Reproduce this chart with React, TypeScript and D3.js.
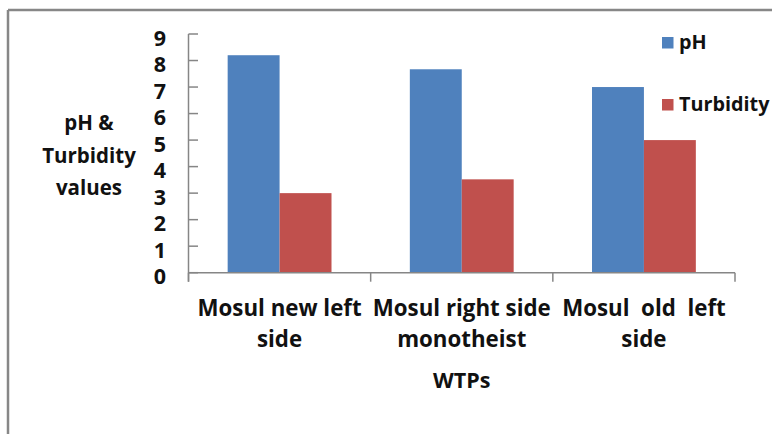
import React from "react"
import * as d3 from "d3"

// WTP categories (each label split into its two printed lines)
const categories = ["Mosul new left side", "Mosul right side monotheist", "Mosul old left side"]
const categoryLines = [
  ["Mosul new left", "side"],
  ["Mosul right side", "monotheist"],
  ["Mosul  old  left", "side"],
]
const seriesNames = ["pH", "Turbidity"]
const phValues = [8.2, 7.67, 7.0]
const turbidityValues = [3.0, 3.52, 5.0]
const yTicks = [0, 1, 2, 3, 4, 5, 6, 7, 8, 9]
const yTitleLines = ["pH &", "Turbidity", "values"]
const xTitle = "WTPs"

const colors = ["#4F81BD", "#C0504D"]
const axisColor = "#868686"
const font = "'Open Sans', Lato, sans-serif"

export default function App() {
  const W = 772
  const H = 434
  const plot = { left: 188.5, right: 735, top: 34, bottom: 272.7 }

  const x = d3.scaleBand<string>()
    .domain(categories)
    .range([plot.left, plot.right])
    .paddingInner(0)
    .paddingOuter(0)

  // Excel-style gap width of ~75% of a bar
  const groupPad = 0.215
  const x1 = d3.scaleBand<string>()
    .domain(seriesNames)
    .range([x.bandwidth() * groupPad, x.bandwidth() * (1 - groupPad)])

  const y = d3.scaleLinear().domain([0, 9]).range([plot.bottom, plot.top])

  const series = [phValues, turbidityValues]
  const boundaries = [...categories.map((c) => x(c) as number), plot.right]

  return (
    <svg
      width={W}
      height={H}
      style={{ position: "absolute", left: 0, top: 0, background: "#fff" }}
      fontFamily={font}
      fontWeight={700}
    >
      <rect x={0} y={0} width={W} height={H} fill="#fff" />
      {/* frame (top and left edges visible) */}
      <line x1={8} x2={W} y1={10} y2={10} stroke="#878787" strokeWidth={2.5} />
      <line x1={8} x2={8} y1={10} y2={H} stroke="#878787" strokeWidth={2.5} />

      {/* bars */}
      {series.map((vals, si) =>
        categories.map((c, ci) => (
          <rect
            key={`${si}-${ci}`}
            x={(x(c) as number) + (x1(seriesNames[si]) as number)}
            y={y(vals[ci])}
            width={x1.bandwidth()}
            height={plot.bottom - y(vals[ci])}
            fill={colors[si]}
          />
        ))
      )}

      {/* y axis */}
      <line x1={plot.left} x2={plot.left} y1={plot.top} y2={plot.bottom + 9} stroke={axisColor} strokeWidth={1.5} />
      {yTicks.map((t) => (
        <g key={t}>
          <line x1={plot.left} x2={plot.left + 9.5} y1={y(t)} y2={y(t)} stroke={axisColor} strokeWidth={1.5} />
          <text x={166} y={y(t) + 3} textAnchor="end" dominantBaseline="central" fontSize={21.5} fill="#111">
            {t}
          </text>
        </g>
      ))}

      {/* x axis */}
      <line x1={plot.left} x2={plot.right} y1={plot.bottom} y2={plot.bottom} stroke={axisColor} strokeWidth={1.5} />
      {boundaries.map((bx, i) => (
        <line key={i} x1={bx} x2={bx} y1={plot.bottom} y2={plot.bottom + 9} stroke={axisColor} strokeWidth={1.5} />
      ))}
      {categories.map((c, ci) => (
        <g key={c}>
          {categoryLines[ci].map((ln, li) => (
            <text
              key={li}
              x={(x(c) as number) + x.bandwidth() / 2}
              y={315.7 + li * 31}
              textAnchor="middle"
              fontSize={22.3}
              fill="#111"
              style={{ whiteSpace: "pre" }}
            >
              {ln}
            </text>
          ))}
        </g>
      ))}

      {/* axis titles */}
      <text x={(plot.left + plot.right) / 2} y={388} textAnchor="middle" fontSize={21.5} fill="#111">
        {xTitle}
      </text>
      {yTitleLines.map((ln, i) => (
        <text key={i} x={89} y={130 + i * 32.5} textAnchor="middle" fontSize={20.5} fill="#111">
          {ln}
        </text>
      ))}

      {/* legend */}
      {seriesNames.map((s, i) => (
        <g key={s} transform={`translate(662,${37 + i * 62})`}>
          <rect x={0} y={0} width={11.5} height={11.5} fill={colors[i]} />
          <text x={17} y={11.5} fontSize={19.8} fill="#111">
            {s}
          </text>
        </g>
      ))}
    </svg>
  )
}
